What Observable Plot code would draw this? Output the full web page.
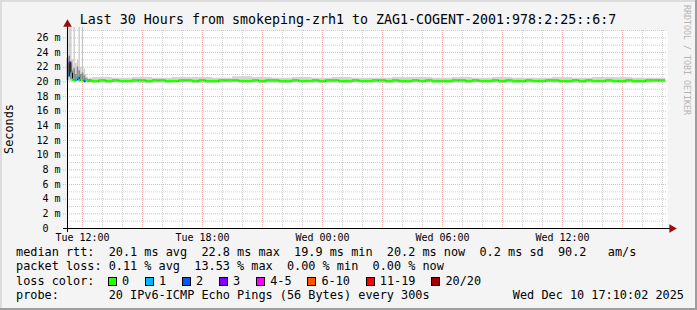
<!DOCTYPE html>
<html><head><meta charset="utf-8">
<script src="https://cdn.jsdelivr.net/npm/d3@7"></script>
<script src="https://cdn.jsdelivr.net/npm/@observablehq/plot@0.6"></script>
<style>
html,body{margin:0;padding:0;background:#f4f4f4;}
#root{position:relative;width:697px;height:310px;background:#f4f4f4;overflow:hidden;font-family:"DejaVu Sans Mono",monospace;color:#000;}
.abs{position:absolute;white-space:pre;line-height:1;}
#title{left:0;width:696px;text-align:center;top:12.7px;font-size:13.3px;}
.row{left:16px;font-size:11.85px;}
#ylab{left:-21px;top:122px;width:60px;height:14px;line-height:14px;text-align:center;font-size:11.85px;transform:rotate(-90deg);}
#wm{left:683px;top:5px;font-size:8.3px;color:#b4b4b4;writing-mode:vertical-rl;line-height:8px;}
#legend{left:108px;font-size:11.85px;}
.item{display:inline-block;margin-right:15.9px;}
.box{display:inline-block;box-sizing:border-box;width:9px;height:9px;border:1px solid #000;margin-right:5px;vertical-align:-1px;}
.edge{position:absolute;}
</style></head><body>
<div id="root">
  <div id="chart" class="abs" style="left:0;top:0"></div>
  <div id="title" class="abs"></div>
  <div id="ylab" class="abs">Seconds</div>
  <div id="wm" class="abs">RRDTOOL / TOBI OETIKER</div>
  <div id="row1" class="abs row" style="top:247px"></div>
  <div id="row2" class="abs row" style="top:261.3px"></div>
  <div id="row3" class="abs row" style="top:275.5px">loss color:</div>
  <div id="legend" class="abs" style="top:275.5px"></div>
  <div id="row4" class="abs row" style="top:289.7px"></div>
  <div id="date" class="abs row" style="top:289.7px;left:auto;right:13px"></div>
  <div class="edge" style="left:0;top:0;width:697px;height:2px;background:#dcdcdc"></div>
  <div class="edge" style="left:0;top:0;width:2px;height:310px;background:#dcdcdc"></div>
  <div class="edge" style="left:695px;top:0;width:2px;height:310px;background:#9d9d9d"></div>
  <div class="edge" style="left:0;top:308px;width:697px;height:2px;background:#9d9d9d"></div>
</div>
<script>
// ---------- data ----------
const titleText = "Last 30 Hours from smokeping-zrh1 to ZAG1-COGENT-2001:978:2:25::6:7";
const rangeStart = "2025-12-09T11:15:00Z";
const rangeEnd = "2025-12-10T17:15:00Z";

// early part: 5-minute steps starting 11:15
const earlyStart = "2025-12-09T11:15:00Z";
const earlyStepMin = 5;
const earlyMedian = [20.8, 22.6, 21.2, 20.3, 20.2, 20.3, 20.6, 20.2, 20.3, 20.2, 20.1, 20.2, 20.1, 20.2, 20.1];
const earlyLoss   = [1, 3, 1, 0, 0, 1, 1, 0, 0, 0, 2, 0, 0, 0, 0];
const earlyLo     = [20.0, 20.1, 20.0, 20.0, 20.0, 20.0, 20.0, 20.0, 20.0, 20.0, 20.0, 20.0, 20.0, 19.9, 19.9];
const earlyHi     = [27.4, 27.4, 27.4, 23.0, 27.4, 22.5, 23.0, 27.4, 22.0, 27.4, 21.8, 21.0, 20.6, 20.5, 20.5];
const earlyInLo   = [20.2, 20.6, 20.3, 20.1, 20.1, 20.1, 20.2, 20.1, 20.1, 20.1, 20.1, 20.1, 20.1, 20.1, 20.1];
const earlyInHi   = [23.2, 23.5, 22.8, 21.5, 21.8, 21.0, 22.0, 21.5, 21.0, 21.2, 20.8, 20.5, 20.3, 20.3, 20.3];

// main part: 20-minute steps starting 12:30
const mainStart = "2025-12-09T12:30:00Z";
const mainStepMin = 20;
const mainMedian = [
  20.1,20.2,20.1,20.2,20.1,20.1,20.2,20.2,20.1,20.2,
  20.2,20.1,20.1,20.2,20.2,20.1,20.2,20.1,20.1,20.2,
  20.2,20.2,20.1,20.1,20.2,20.1,20.2,20.2,20.1,20.1,
  20.2,20.1,20.1,20.2,20.1,20.2,20.2,20.1,20.1,20.2,
  20.1,20.1,20.2,20.2,20.1,20.2,20.1,20.1,20.2,20.1,
  20.2,20.1,20.1,20.1,20.2,20.2,20.1,20.2,20.1,20.1,
  20.2,20.1,20.2,20.1,20.1,20.2,20.1,20.1,20.2,20.2,
  20.1,20.1,20.2,20.1,20.2,20.1,20.1,20.2,20.1,20.1,
  20.2,20.1,20.1,20.2,20.2,20.2];
// main smoke: hourly steps starting 12:30
const smokeStepMin = 60;
const smokeLo = [19.8,19.9,19.8,19.8,19.9,19.8,19.8,19.9,19.8,19.8,19.9,19.8,19.8,19.9,19.8,19.8,19.9,19.8,19.8,19.9,19.8,19.8,19.9,19.8,19.8,19.9,19.8,19.8,19.9];
const smokeHi = [20.6,20.5,20.6,20.5,20.6,20.6,20.5,20.7,20.6,20.5,20.6,20.5,20.6,20.5,20.5,20.6,20.6,20.5,20.6,20.5,20.6,20.5,20.5,20.6,20.5,20.6,20.6,20.5,20.5];

const yTicks = [0, 2, 4, 6, 8, 10, 12, 14, 16, 18, 20, 22, 24, 26];
const yMinor = [1, 3, 5, 7, 9, 11, 13, 15, 17, 19, 21, 23, 25, 27];
const xLabelTicks = ["2025-12-09T12:00:00Z", "2025-12-09T18:00:00Z", "2025-12-10T00:00:00Z", "2025-12-10T06:00:00Z", "2025-12-10T12:00:00Z"];

const lossLabels = ["0", "1", "2", "3", "4-5", "6-10", "11-19", "20/20"];
const lossColors = ["#26ff00", "#00b8ff", "#0059ff", "#7e00ff", "#ff00ff", "#ff5500", "#ff0000", "#a10000"];
const rttStats = ["20.1 ms avg", "22.8 ms max", "19.9 ms min", "20.2 ms now", "0.2 ms sd", "90.2   am/s"];
const lossStats = ["0.11 % avg", "13.53 % max", "0.00 % min", "0.00 % now"];
const probeText = "20 IPv6-ICMP Echo Pings (56 Bytes) every 300s";
const dateText = "Wed Dec 10 17:10:02 2025";

// ---------- build ----------
const MIN = 60000;
const t0 = new Date(rangeStart), t1 = new Date(rangeEnd);
const dataEnd = new Date("2025-12-10T17:10:00Z");
const lossIndex = n => n === 0 ? 0 : n === 1 ? 1 : n === 2 ? 2 : n === 3 ? 3 : n <= 5 ? 4 : n <= 10 ? 5 : n <= 19 ? 6 : 7;

const es = +new Date(earlyStart), ms = +new Date(mainStart);
const early = earlyMedian.map((m, i) => ({
  t: new Date(es + i * earlyStepMin * MIN), t2: new Date(es + (i + 1) * earlyStepMin * MIN),
  median: m, loss: earlyLoss[i], lo: earlyLo[i], hi: earlyHi[i], inLo: earlyInLo[i], inHi: earlyInHi[i]
}));
const main = mainMedian.map((m, i) => ({
  t: new Date(ms + i * mainStepMin * MIN), t2: new Date(ms + (i + 1) * mainStepMin * MIN),
  median: m, loss: 0
}));
const smoke = smokeLo.map((lo, i) => ({
  t: new Date(ms + i * smokeStepMin * MIN),
  t2: new Date(Math.min(ms + (i + 1) * smokeStepMin * MIN, +dataEnd)),
  lo, hi: smokeHi[i]
}));
const all = early.concat(main);

const xMinor = d3.utcHour.range(t0, t1);
const xMajor = d3.utcHour.every(3).range(t0, t1);
const xLabels = xLabelTicks.map(s => new Date(s));

const gridGray = "#d0d0d0", gridRed = "#f6b0b0", arrowCol = "#9c0b0b";
const fmtX = d3.utcFormat("%a %H:%M");

const chart = Plot.plot({
  width: 697, height: 246,
  marginLeft: 67, marginRight: 30, marginTop: 30, marginBottom: 18,
  x: {type: "utc", domain: [t0, t1]},
  y: {domain: [0, 27]},
  style: {background: "transparent", fontFamily: "DejaVu Sans Mono", fontSize: "10px", color: "#000", overflow: "visible"},
  marks: [
    Plot.frame({fill: "white", stroke: null}),
    Plot.ruleY(yMinor, {stroke: gridGray, strokeDasharray: "1,1"}),
    Plot.ruleX(xMinor, {stroke: gridGray, strokeDasharray: "1,1"}),
    Plot.ruleY(yTicks.filter(d => d > 0), {x1: new Date(+t0 - 12 * MIN), x2: t1, stroke: gridRed, strokeDasharray: "1,1"}),
    Plot.ruleX(xMajor, {stroke: gridRed, strokeDasharray: "1,1"}),
    Plot.rect(smoke, {x1: "t", x2: "t2", y1: "lo", y2: "hi", fill: "#d4d4d4"}),
    Plot.ruleX(early, {x: "t", y1: "lo", y2: "hi", stroke: "#c4c4c4", strokeWidth: 1.2}),
    Plot.ruleX(early, {x: "t", y1: "inLo", y2: "inHi", stroke: "#8a8a8a", strokeWidth: 1.7}),
    Plot.line(all, {x: "t", y: "median", stroke: "#000", strokeWidth: 1, curve: "step-after"}),
    Plot.ruleY(all, {x1: "t", x2: d => d.t2 > dataEnd ? dataEnd : d.t2, y: "median", stroke: d => lossColors[lossIndex(d.loss)], strokeWidth: 2.5}),
    Plot.ruleY([0], {x1: new Date(+t0 - 12 * MIN), x2: new Date(+t1 + 9 * MIN), stroke: "#000"}),
    Plot.ruleX([t0], {y1: -0.55, y2: 27.7, stroke: "#000"}),
    Plot.dot([0], {x: new Date(+t1 + 13 * MIN), y: 0, symbol: "triangle", r: 3.2, fill: arrowCol, stroke: null, rotate: 90}),
    Plot.dot([0], {x: t0, y: 27.85, symbol: "triangle", r: 3.2, fill: arrowCol, stroke: null}),
    Plot.axisY(yTicks, {tickSize: 0, tickPadding: 7, label: null, tickFormat: d => d === 0 ? "0\u00a0\u00a0" : d + " m"}),
    Plot.axisX(xLabels, {tickSize: 0, tickPadding: 5, label: null, tickFormat: fmtX})
  ]
});
document.getElementById("chart").appendChild(chart);

document.getElementById("title").textContent = titleText;
document.getElementById("row1").textContent = "median rtt:  " + rttStats.join("  ");
document.getElementById("row2").textContent = "packet loss: " + lossStats.join("  ");
document.getElementById("row4").textContent = "probe:       " + probeText;
document.getElementById("date").textContent = dateText;
const leg = document.getElementById("legend");
lossLabels.forEach((lab, i) => {
  const it = document.createElement("span");
  it.className = "item";
  const b = document.createElement("span");
  b.className = "box";
  b.style.background = lossColors[i];
  it.appendChild(b);
  it.appendChild(document.createTextNode(lab));
  leg.appendChild(it);
});
</script>
</body></html>
